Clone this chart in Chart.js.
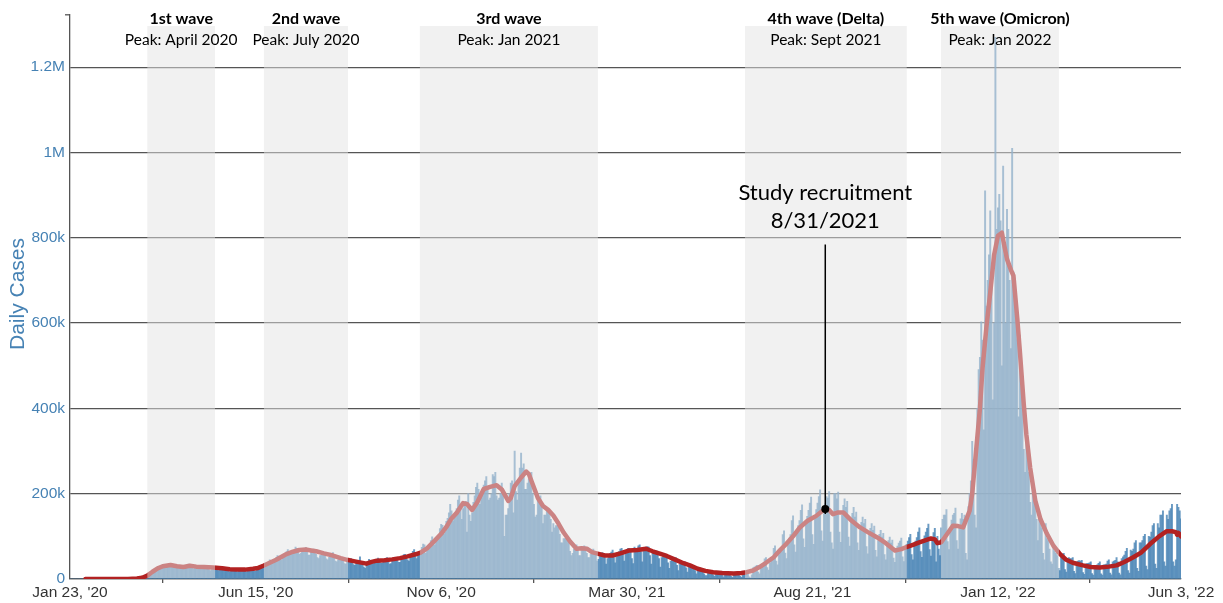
<!DOCTYPE html>
<html><head><meta charset="utf-8">
<script src="https://cdn.jsdelivr.net/npm/chart.js@4/dist/chart.umd.min.js"></script>
<style>html,body{margin:0;padding:0;background:#fff}canvas{display:block}</style>
</head><body>
<canvas id="c" width="1223" height="603"></canvas>
<script>
// ---------- DATA ----------
const tickDays = [0, 144, 288, 432, 576, 720, 862];
const tickLabels = ["Jan 23, '20", "Jun 15, '20", "Nov 6, '20", "Mar 30, '21", "Aug 21, '21", "Jan 12, '22", "Jun 3, '22"];
const yTickValues = [0, 200, 400, 600, 800, 1000, 1200];
const yTickLabels = ['0', '200k', '400k', '600k', '800k', '1M', '1.2M'];

// daily cases (thousands), one value per day starting Jan 23 2020
const dailyCasesK = [
0,0,0,0,0,0,0,
0,0,0,0,0,0,0,
0,0,0,0,0,0,0,
0,0,0,0,0,0,0,
0,0,0,0,0,0,0,
0,0,0,0,0,0,0,
0.1,0.1,0.1,0.1,0.2,0.3,0.4,
0.5,0.6,0.8,0.9,1.2,1.8,2.5,
4.5,5.5,7,8,10,11,12,
17,19,20,19,21,25,26,
29,32,34,28,29,30,32,
35,33,31,27,27,28,30,
31,32,30,27,26,28,29,
33,35,32,28,25,24,27,
30,32,29,27,24,23,25,
28,28,26,22,20,22,22,
27,26,24,20,21,22,21,
28,24,23,20,18,17,20,
23,25,24,20,17,20,21,
21,23,24,18,17,19,21,
23,26,25,19,18,23,25,
28,32,33,28,27,33,36,
40,45,43,40,39,46,50,
55,53,48,45,49,58,60,
64,69,62,58,59,64,68,
75,72,64,58,60,68,70,
72,74,66,56,56,63,68,
70,69,58,50,48,55,56,
60,62,56,47,45,51,55,
56,62,52,42,40,45,47,
46,50,45,36,35,40,42,
46,48,44,34,32,38,40,
43,52,40,33,28,25,33,
36,46,42,35,35,38,40,
46,49,43,38,37,40,42,
46,50,43,35,36,42,43,
46,50,47,39,39,45,52,
57,58,52,45,42,50,57,
65,69,54,48,57,62,63,
74,82,80,60,66,74,80,
90,99,88,80,86,90,103,
118,128,126,105,110,135,142,
155,175,160,136,148,155,165,
185,195,175,140,165,175,182,
110,200,150,135,155,180,195,
215,225,210,175,190,210,220,
230,240,215,185,190,200,245,
240,250,195,185,190,200,225,
200,100,150,150,165,200,225,
230,155,300,205,185,230,260,
295,260,270,210,210,225,235,
240,250,200,175,145,150,185,
190,195,170,130,150,150,160,
165,160,140,110,130,120,125,
125,130,105,85,85,95,95,
100,95,85,65,55,60,70,
70,80,70,55,55,70,75,
78,75,60,50,50,58,66,
70,65,58,42,46,57,58,
62,60,50,35,48,55,60,
63,68,50,38,52,54,64,
70,72,60,42,58,62,72,
72,70,48,36,75,64,70,
78,80,64,40,68,68,75,
76,75,55,35,62,58,64,
66,62,48,28,50,52,55,
58,55,38,25,42,46,48,
48,50,32,20,35,38,38,
38,40,26,16,28,30,32,
32,30,20,12,22,24,26,
24,20,12,8,8,16,18,
18,20,10,6,14,15,16,
17,18,9,5,13,14,14,
15,14,6,4,12,13,14,
17,18,6,4,14,14,17,
20,14,5,3,10,26,28,
30,32,16,12,24,30,32,
47,50,27,21,37,43,48,
72,78,42,33,57,66,72,
104,113,61,48,83,96,104,
137,148,80,63,108,125,137,
161,174,94,74,127,147,161,
178,192,104,81,141,163,178,
193,209,113,89,153,177,193,
190,205,110,85,70,200,200,
188,204,110,86,149,173,188,
168,182,98,77,133,154,168,
145,157,85,67,115,133,145,
130,140,76,59,103,119,130,
114,124,67,52,90,105,114,
98,107,57,45,78,90,98,
84,91,49,39,67,77,84,
89,96,52,41,70,81,89,
97,105,57,45,77,89,97,
110,120,64,51,87,101,110,
119,129,69,54,94,109,119,
40,100,70,55,120,140,150,
150,163,88,69,119,138,150,
154,166,90,70,122,141,154,
140,150,60,45,170,200,230,
323,280,150,120,400,491,520,
603,560,350,910,640,700,760,
863,700,420,600,1270,820,870,
902,840,500,968,760,600,867,
820,700,540,1010,720,680,640,
560,380,572,480,420,304,250,
330,300,250,180,150,230,200,
183,140,90,160,130,120,60,
45,130,95,90,70,40,35,
75,65,60,55,25,20,60,
55,60,22,16,45,50,48,
48,50,18,13,40,42,43,
42,44,15,11,35,36,37,
38,40,13,9,32,32,33,
37,40,12,9,33,33,35,
42,45,14,10,40,42,44,
50,40,14,10,48,52,56,
65,72,20,14,68,65,70,
85,90,25,18,85,85,90,
100,105,30,22,100,98,110,
125,130,35,25,130,120,150,
150,160,40,30,150,140,160,
165,175,40,30,45,175,168,
160,141
];

// 7-day average line (thousands), read at these day offsets
const avgDays = [12,30,45,52,56,60,64,68,72,78,83,88,93,98,104,111,118,124,130,136,142,146,150,155,160,167,173,178,183,187,191,197,204,210,215,220,225,230,234,238,244,250,256,262,268,272,277,283,288,292,296,300,305,308,312,316,321,326,331,335,340,342,345,350,354,356,359,363,367,371,375,379,383,388,393,397,401,405,410,415,421,427,434,440,447,452,457,463,470,476,481,487,493,499,506,515,521,525,530,535,540,546,551,556,561,566,572,579,583,586,589,592,596,600,606,613,619,626,633,640,645,649,654,659,664,668,671,673,676,680,685,689,693,698,700,703,706,708,711,714,717,720,723,725,727,730,732,735,737,740,742,745,749,753,758,763,768,773,778,786,792,799,806,812,818,825,831,838,845,851,855,858,859,860,862];
const avgCasesK = [0.1,0.1,0.1,1,3,8,17,25,30,33,30,28,31,29,28,27,25,23,22,22,24,26,31,38,45,57,64,68,69,67,65,60,55,49,45,42,39,36,40,43,44,46,49,53,58,62,72,90,106,122,142,155,178,176,162,180,211,216,220,210,183,190,218,238,252,246,222,190,171,162,149,130,109,88,71,72,71,63,59,55,55,60,67,68,71,65,60,54,45,37,32,24,19,16,14,13,14,16,20,28,38,51,68,83,100,120,136,148,158,164,162,152,156,156,138,121,110,98,84,67,70,75,80,86,91,95,93,84,86,103,125,124,121,160,200,300,400,494,590,672,760,805,812,780,750,725,711,610,533,410,339,260,183,140,106,78,59,45,38,32,28,27,29,32,40,51,62,82,100,112,112,110,104,108,100];

const waveNames = ['1st wave', '2nd wave', '3rd wave', '4th wave (Delta)', '5th wave (Omicron)'];
const wavePeaks = ['Peak: April 2020', 'Peak: July 2020', 'Peak: Jan 2021', 'Peak: Sept 2021', 'Peak: Jan 2022'];
const waveStartDay = [60, 150.5, 271.5, 523.7, 675.8];
const waveEndDay = [112.5, 215.7, 409.6, 649.2, 767.3];

const recruitDay = 586;
const recruitValueK = 164;
const recruitTopK = 784;
const recruitLabel = ['Study recruitment', '8/31/2021'];

// ---------- CHART ----------
const overlayPlugin = {
  id: 'overlay',
  afterDatasetsDraw(chart) {
    const { ctx, chartArea, scales: { x, y } } = chart;
    const y0 = y.getPixelForValue(0);
    ctx.save();
    // wave shading
    ctx.fillStyle = 'rgba(228,228,228,0.5)';
    const shadeTop = 26;
    for (let i = 0; i < waveNames.length; i++) {
      const a = x.getPixelForValue(waveStartDay[i]);
      const b = x.getPixelForValue(waveEndDay[i]);
      ctx.fillRect(a, shadeTop, b - a, y0 - 1 - shadeTop);
    }
    // wave labels
    ctx.fillStyle = '#000';
    ctx.textAlign = 'center';
    ctx.textBaseline = 'middle';
    for (let i = 0; i < waveNames.length; i++) {
      const cx = (x.getPixelForValue(waveStartDay[i]) + x.getPixelForValue(waveEndDay[i])) / 2;
      ctx.font = 'bold 16px Lato';
      ctx.fillText(waveNames[i], cx, 19);
      ctx.font = '15.5px Lato';
      ctx.fillText(wavePeaks[i], cx, 40);
    }
    // study recruitment annotation
    const rx = x.getPixelForValue(recruitDay);
    const ry = y.getPixelForValue(recruitValueK);
    const rt = y.getPixelForValue(recruitTopK);
    ctx.strokeStyle = '#000';
    ctx.lineWidth = 1.5;
    ctx.beginPath();
    ctx.moveTo(rx, rt);
    ctx.lineTo(rx, ry + 5);
    ctx.stroke();
    ctx.beginPath();
    ctx.arc(rx, ry, 4, 0, Math.PI * 2);
    ctx.fill();
    ctx.font = '22px Lato';
    ctx.fillText(recruitLabel[0], rx, 193);
    ctx.fillText(recruitLabel[1], rx, 221);
    // outer tick at top of y axis
    ctx.strokeStyle = '#555';
    ctx.lineWidth = 1.3;
    ctx.beginPath();
    ctx.moveTo(chartArea.left - 5, chartArea.top + 0.5);
    ctx.lineTo(chartArea.left, chartArea.top + 0.5);
    ctx.stroke();
    // y axis title
    ctx.translate(18, 294);
    ctx.rotate(-Math.PI / 2);
    ctx.fillStyle = '#4682b4';
    ctx.font = '21px "Liberation Sans"';
    ctx.fillText('Daily Cases', 0, 0);
    ctx.restore();
  }
};

new Chart(document.getElementById('c'), {
  type: 'bar',
  data: {
    datasets: [
      {
        type: 'line',
        data: avgDays.map((d, i) => ({ x: d, y: avgCasesK[i] })),
        borderColor: '#b22222',
        borderWidth: 4.5,
        pointRadius: 0,
        tension: 0,
        borderJoinStyle: 'round',
        borderCapStyle: 'round',
        order: 0
      },
      {
        type: 'bar',
        data: dailyCasesK.map((v, i) => ({ x: i, y: v })),
        backgroundColor: 'rgba(70,130,180,0.8)',
        borderWidth: 0,
        barPercentage: 1,
        categoryPercentage: 1,
        order: 1
      }
    ]
  },
  options: {
    responsive: false,
    animation: false,
    layout: { padding: { top: 11, right: 42, left: 0, bottom: 0 } },
    plugins: { legend: { display: false }, tooltip: { enabled: false } },
    scales: {
      x: {
        type: 'linear',
        min: 0,
        max: 862,
        offset: false,
        grid: { drawOnChartArea: false, drawTicks: true, tickLength: 4, color: '#555', lineWidth: 1.3 },
        border: { color: '#555', width: 1.3 },
        afterBuildTicks: s => { s.ticks = tickDays.map(v => ({ value: v })); },
        afterFit: s => { s.height = 24; },
        ticks: {
          autoSkip: false, maxRotation: 0, padding: 0, color: '#333',
          font: { family: 'Liberation Sans', size: 15.5 },
          callback: v => { const i = tickDays.indexOf(v); return i >= 0 ? tickLabels[i] : ''; }
        }
      },
      y: {
        min: 0,
        max: 1324,
        afterBuildTicks: s => { s.ticks = yTickValues.map(v => ({ value: v })); },
        afterFit: s => { s.width = 70; },
        grid: { color: '#555', drawTicks: false, lineWidth: 1.3 },
        border: { color: '#555', width: 1.3 },
        ticks: {
          padding: 5, color: '#4682b4',
          font: { family: 'Liberation Sans', size: 15.5 },
          callback: v => { const i = yTickValues.indexOf(v); return i >= 0 ? yTickLabels[i] : ''; }
        }
      }
    }
  },
  plugins: [overlayPlugin]
});
</script>
</body></html>
